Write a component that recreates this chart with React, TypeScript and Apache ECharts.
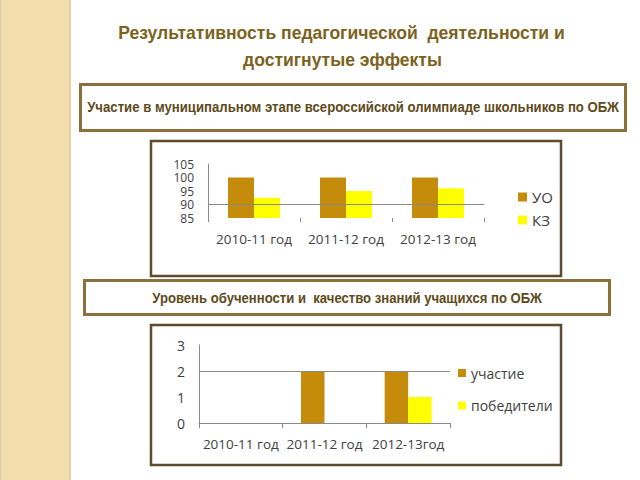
import React, { useEffect, useRef } from "react";
import * as echarts from "echarts";

const titleLines = ["Результативность педагогической  деятельности и", "достигнутые эффекты"];
const caption1 = "Участие в муниципальном этапе всероссийской олимпиаде школьников по ОБЖ";
const caption2 = "Уровень обученности и  качество знаний учащихся по ОБЖ";

const years1 = ["2010-11 год", "2011-12 год", "2012-13 год"];
const uoName = "УО";
const kzName = "КЗ";
const uoValues = [100, 100, 100];
const kzValues = [92.5, 95, 96];
const yTicks1 = [85, 90, 95, 100, 105];

const years2 = ["2010-11 год", "2011-12 год", "2012-13год"];
const partName = "участие";
const winName = "победители";
const partValues = [0, 2, 2];
const winValues = [0, 0, 1];

const GOLD = "#c48c0a";
const YELLOW = "#ffff00";
const AXIS = "#8a8a8a";
const LABEL = "#404040";
const BOLD = "'Liberation Sans', Arial, sans-serif";
const SANS = "'Open Sans', 'Noto Sans', sans-serif";

function fitScale(text: string, font: string, target: number): number {
  const c = document.createElement("canvas");
  const ctx = c.getContext("2d");
  if (!ctx) return 1;
  ctx.font = font;
  const w = ctx.measureText(text).width;
  return w > 0 ? target / w : 1;
}

function narrowText(text: string, cx: number, cy: number, size: number, color: string, target: number) {
  const font = `bold ${size}px ${BOLD}`;
  return {
    type: "text",
    x: cx,
    y: cy,
    scaleX: fitScale(text, font, target),
    style: { text, fill: color, font, align: "center", verticalAlign: "middle" },
    z: 10,
  };
}

export default function App() {
  const ref = useRef<HTMLDivElement>(null);
  useEffect(() => {
    if (!ref.current) return;
    const chart = echarts.init(ref.current, null, { renderer: "svg" });
    const option: any = {
      animation: false,
      backgroundColor: "#ffffff",
      graphic: [
        { type: "rect", shape: { x: 0, y: 0, width: 70, height: 480 }, style: { fill: "#f1ddae" }, z: 0 },
        { type: "line", shape: { x1: 70, y1: 0, x2: 70, y2: 480 }, style: { stroke: "#dcc690", lineWidth: 1.5 } },
        { type: "line", shape: { x1: 0.5, y1: 0, x2: 0.5, y2: 480 }, style: { stroke: "#d8cdb0", lineWidth: 1 } },
        narrowText(titleLines[0], 341.5, 32, 19, "#7b6220", 447),
        narrowText(titleLines[1], 342.5, 59, 19, "#7b6220", 199),
        { type: "rect", shape: { x: 80.5, y: 84.5, width: 545, height: 46 }, style: { fill: "#fff", stroke: "#8c703c", lineWidth: 3 } },
        narrowText(caption1, 353, 107, 15, "#5e4b1c", 532),
        { type: "rect", shape: { x: 151, y: 141, width: 410, height: 135 }, style: { fill: "#fff", stroke: "#5c4b2c", lineWidth: 2.5 } },
        { type: "rect", shape: { x: 84.5, y: 280.5, width: 525, height: 34 }, style: { fill: "#fff", stroke: "#8c703c", lineWidth: 3 } },
        narrowText(caption2, 347, 298, 15, "#5e4b1c", 390),
        { type: "rect", shape: { x: 151, y: 325, width: 410, height: 140 }, style: { fill: "#fff", stroke: "#5c4b2c", lineWidth: 2.5 } },
      ],
      grid: [
        { left: 208, top: 164, width: 276, height: 54 },
        { left: 199, top: 345, width: 251, height: 78 },
      ],
      legend: [
        {
          data: [uoName, kzName], orient: "vertical", left: 518, top: 189.5, padding: 0,
          itemWidth: 9, itemHeight: 9, itemGap: 8, icon: "rect",
          textStyle: { color: LABEL, fontSize: 15, fontFamily: SANS, lineHeight: 15 },
        },
        {
          data: [partName, winName], orient: "vertical", left: 458, top: 365.5, padding: 0,
          itemWidth: 8, itemHeight: 8, itemGap: 17.5, icon: "rect",
          textStyle: { color: LABEL, fontSize: 14, fontFamily: SANS, lineHeight: 15 },
        },
      ],
      xAxis: [
        {
          type: "category", gridIndex: 0, data: years1,
          axisLine: { show: false },
          axisTick: { show: true, length: 4, lineStyle: { color: AXIS } },
          axisLabel: { color: LABEL, fontSize: 13.5, fontFamily: SANS, margin: 14, interval: 0 },
        },
        {
          type: "category", gridIndex: 1, data: years2,
          axisLine: { show: true, lineStyle: { color: AXIS } },
          axisTick: { show: true, length: 5, lineStyle: { color: AXIS } },
          axisLabel: { color: LABEL, fontSize: 13.5, fontFamily: SANS, margin: 14, interval: 0 },
        },
      ],
      yAxis: [
        {
          type: "value", gridIndex: 0, min: 85, max: 105, interval: 5,
          axisLine: { show: true, lineStyle: { color: AXIS } },
          axisTick: { show: false }, splitLine: { show: false },
          axisLabel: {
            color: LABEL, fontSize: 12, lineHeight: 11, fontFamily: SANS, margin: 14,
            customValues: yTicks1, showMinLabel: true, showMaxLabel: true, hideOverlap: false,
          },
        },
        {
          type: "value", gridIndex: 1, min: 0, max: 3, interval: 1,
          axisLine: { show: true, lineStyle: { color: AXIS } },
          axisTick: { show: false }, splitLine: { show: false },
          axisLabel: { color: LABEL, fontSize: 14, fontFamily: SANS, margin: 14 },
        },
      ],
      series: [
        {
          name: uoName, type: "bar", xAxisIndex: 0, yAxisIndex: 0, data: uoValues,
          barWidth: 26, barGap: "0%", itemStyle: { color: GOLD }, clip: true,
          markLine: {
            silent: true, symbol: "none", label: { show: false },
            lineStyle: { color: AXIS, type: "solid", width: 1 }, data: [{ yAxis: 90 }],
          },
        },
        { name: kzName, type: "bar", xAxisIndex: 0, yAxisIndex: 0, data: kzValues, barWidth: 26, barGap: "0%", itemStyle: { color: YELLOW }, clip: true },
        {
          name: partName, type: "bar", xAxisIndex: 1, yAxisIndex: 1, data: partValues,
          barWidth: 23.5, barGap: "0%", itemStyle: { color: GOLD },
          markLine: {
            silent: true, symbol: "none", label: { show: false },
            lineStyle: { color: AXIS, type: "solid", width: 1 }, data: [{ yAxis: 2 }],
          },
        },
        { name: winName, type: "bar", xAxisIndex: 1, yAxisIndex: 1, data: winValues, barWidth: 23.5, barGap: "0%", itemStyle: { color: YELLOW } },
      ],
    };
    chart.setOption(option);
    return () => chart.dispose();
  }, []);
  return (
    <div
      ref={ref}
      style={{ position: "fixed", left: 0, top: 0, width: 640, height: 480, background: "#fff" }}
    />
  );
}
